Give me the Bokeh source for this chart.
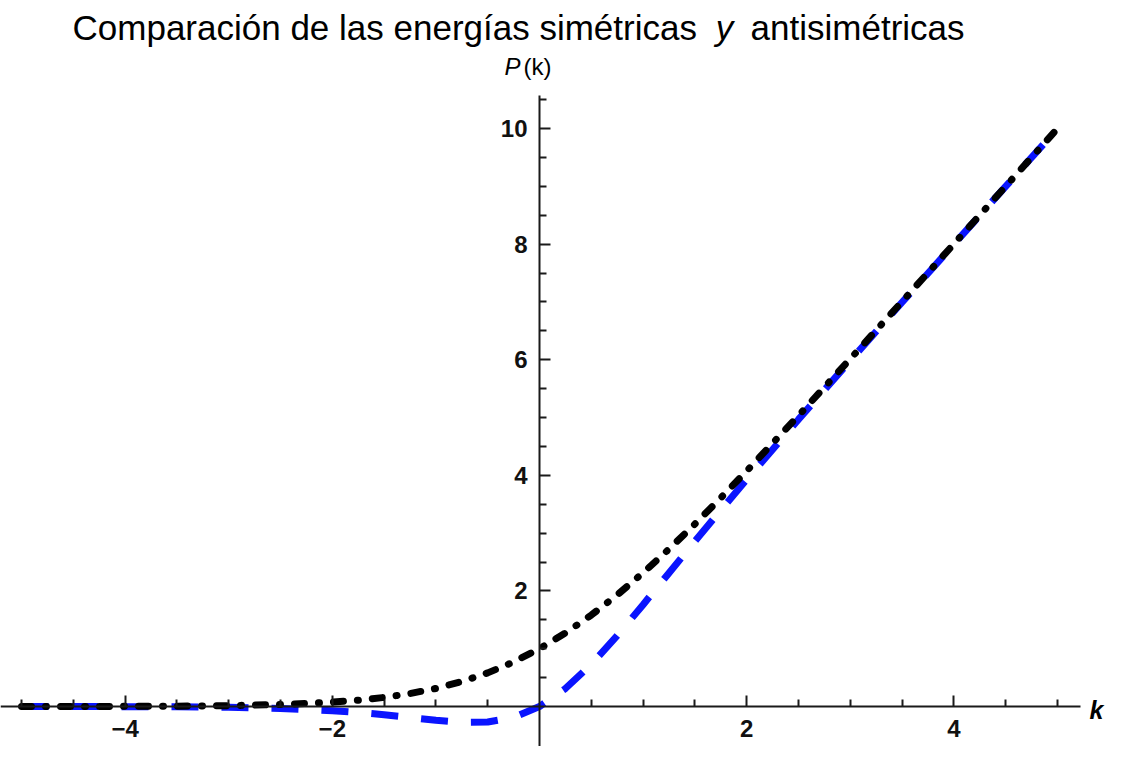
from bokeh.plotting import figure
from bokeh.models import Range1d, FixedTicker, Label
from bokeh.embed import file_html
from bokeh.resources import INLINE

# ---- data ----
k_vals = [-5.0, -4.5, -4.0, -3.5, -3.0, -2.5, -2.0, -1.75, -1.5, -1.25, -1.0, -0.75, -0.5, -0.25,
          0.0, 0.25, 0.5, 0.75, 1.0, 1.25, 1.5, 1.75, 2.0, 2.5, 3.0, 3.5, 4.0, 4.5, 5.0]
sym_vals = [0.0005, 0.0011, 0.0027, 0.0064, 0.0149, 0.0339, 0.0746, 0.109, 0.157, 0.224, 0.313, 0.431, 0.582, 0.771,
            1.0, 1.271, 1.582, 1.931, 2.313, 2.724, 3.157, 3.609, 4.075, 5.034, 6.015, 7.006, 8.003, 9.001, 10.0]
anti_vals = [-0.0005, -0.0011, -0.0027, -0.0064, -0.0149, -0.0335, -0.0719, -0.1026, -0.1423, -0.1897, -0.2384, -0.2736, -0.2689, -0.1888,
             0.0, 0.311, 0.731, 1.226, 1.762, 2.310, 2.858, 3.397, 3.928, 4.967, 5.985, 6.994, 7.997, 8.999, 10.0]
x_major = [-4, -2, 2, 4]
y_major = [2, 4, 6, 8, 10]
x_minor = [-5.0, -4.5, -3.5, -3.0, -2.5, -1.5, -1.0, -0.5, 0.5, 1.0, 1.5, 2.5, 3.0, 3.5, 4.5, 5.0]
y_minor = [0.5, 1.0, 1.5, 2.5, 3.0, 3.5, 4.5, 5.0, 5.5, 6.5, 7.0, 7.5, 8.5, 9.0, 9.5, 10.5]
title_parts = ["Comparación  de las energías  simétricas", "y", "antisimétricas"]

FONT = "Liberation Sans"

p = figure(width=1107, height=746, output_backend="svg", toolbar_location=None,
           x_range=Range1d(-5.2027, 5.4826), y_range=Range1d(-0.692, 12.215),
           min_border=0)
p.outline_line_color = None
p.grid.visible = False
p.background_fill_color = "white"
p.border_fill_color = "white"

# axes crossing at the origin
p.xaxis.fixed_location = 0
p.yaxis.fixed_location = 0
p.xaxis.bounds = (-5.4, 5.222)
p.yaxis.bounds = (-0.8, 10.57)
p.xaxis.ticker = FixedTicker(ticks=x_major, minor_ticks=x_minor)
p.yaxis.ticker = FixedTicker(ticks=y_major, minor_ticks=y_minor)
p.xaxis.major_label_overrides = {-4: "\u22124", -2: "\u22122"}
for ax in (p.xaxis[0], p.yaxis[0]):
    ax.axis_line_color = "#1a1a1a"
    ax.axis_line_width = 2
    ax.major_tick_line_color = "#1a1a1a"
    ax.minor_tick_line_color = "#1a1a1a"
    ax.major_tick_line_width = 2
    ax.minor_tick_line_width = 2
    ax.major_tick_in = 11
    ax.major_tick_out = 0
    ax.minor_tick_in = 7
    ax.minor_tick_out = 0
    ax.major_label_text_font = FONT
    ax.major_label_text_font_size = "24px"
    ax.major_label_text_font_style = "bold"
    ax.major_label_text_color = "#111111"
p.xaxis.major_label_standoff = 13
p.yaxis.major_label_standoff = 12

# curves
p.line(k_vals, anti_vals, line_color="#0a14ff", line_width=7, line_dash="27 23", line_cap="butt")
p.line(k_vals, sym_vals, line_color="black", line_width=7, line_dash="10 14 1 14", line_cap="round")

# title (three pieces, middle one italic)
title_x = [-1.40, 1.786, 3.07]
title_style = ["normal", "italic", "normal"]
for txt, tx, st in zip(title_parts, title_x, title_style):
    p.add_layout(Label(x=tx, y=11.74, text=txt, text_font=FONT, text_font_size="35px",
                       text_font_style=st, text_align="center", text_baseline="alphabetic",
                       text_color="black"))

# axis labels
p.add_layout(Label(x=-0.183, y=11.073, text="P", text_font=FONT, text_font_size="24px",
                   text_font_style="italic", text_align="right", text_baseline="middle", text_color="black"))
p.add_layout(Label(x=-0.154, y=11.073, text="(k)", text_font=FONT, text_font_size="24px",
                   text_align="left", text_baseline="middle", text_color="black"))
p.add_layout(Label(x=5.377, y=-0.069, text="k", text_font=FONT, text_font_size="25px",
                   text_font_style="bold italic", text_align="center", text_baseline="middle", text_color="black"))

open("out.html", "w").write(file_html(p, INLINE))
